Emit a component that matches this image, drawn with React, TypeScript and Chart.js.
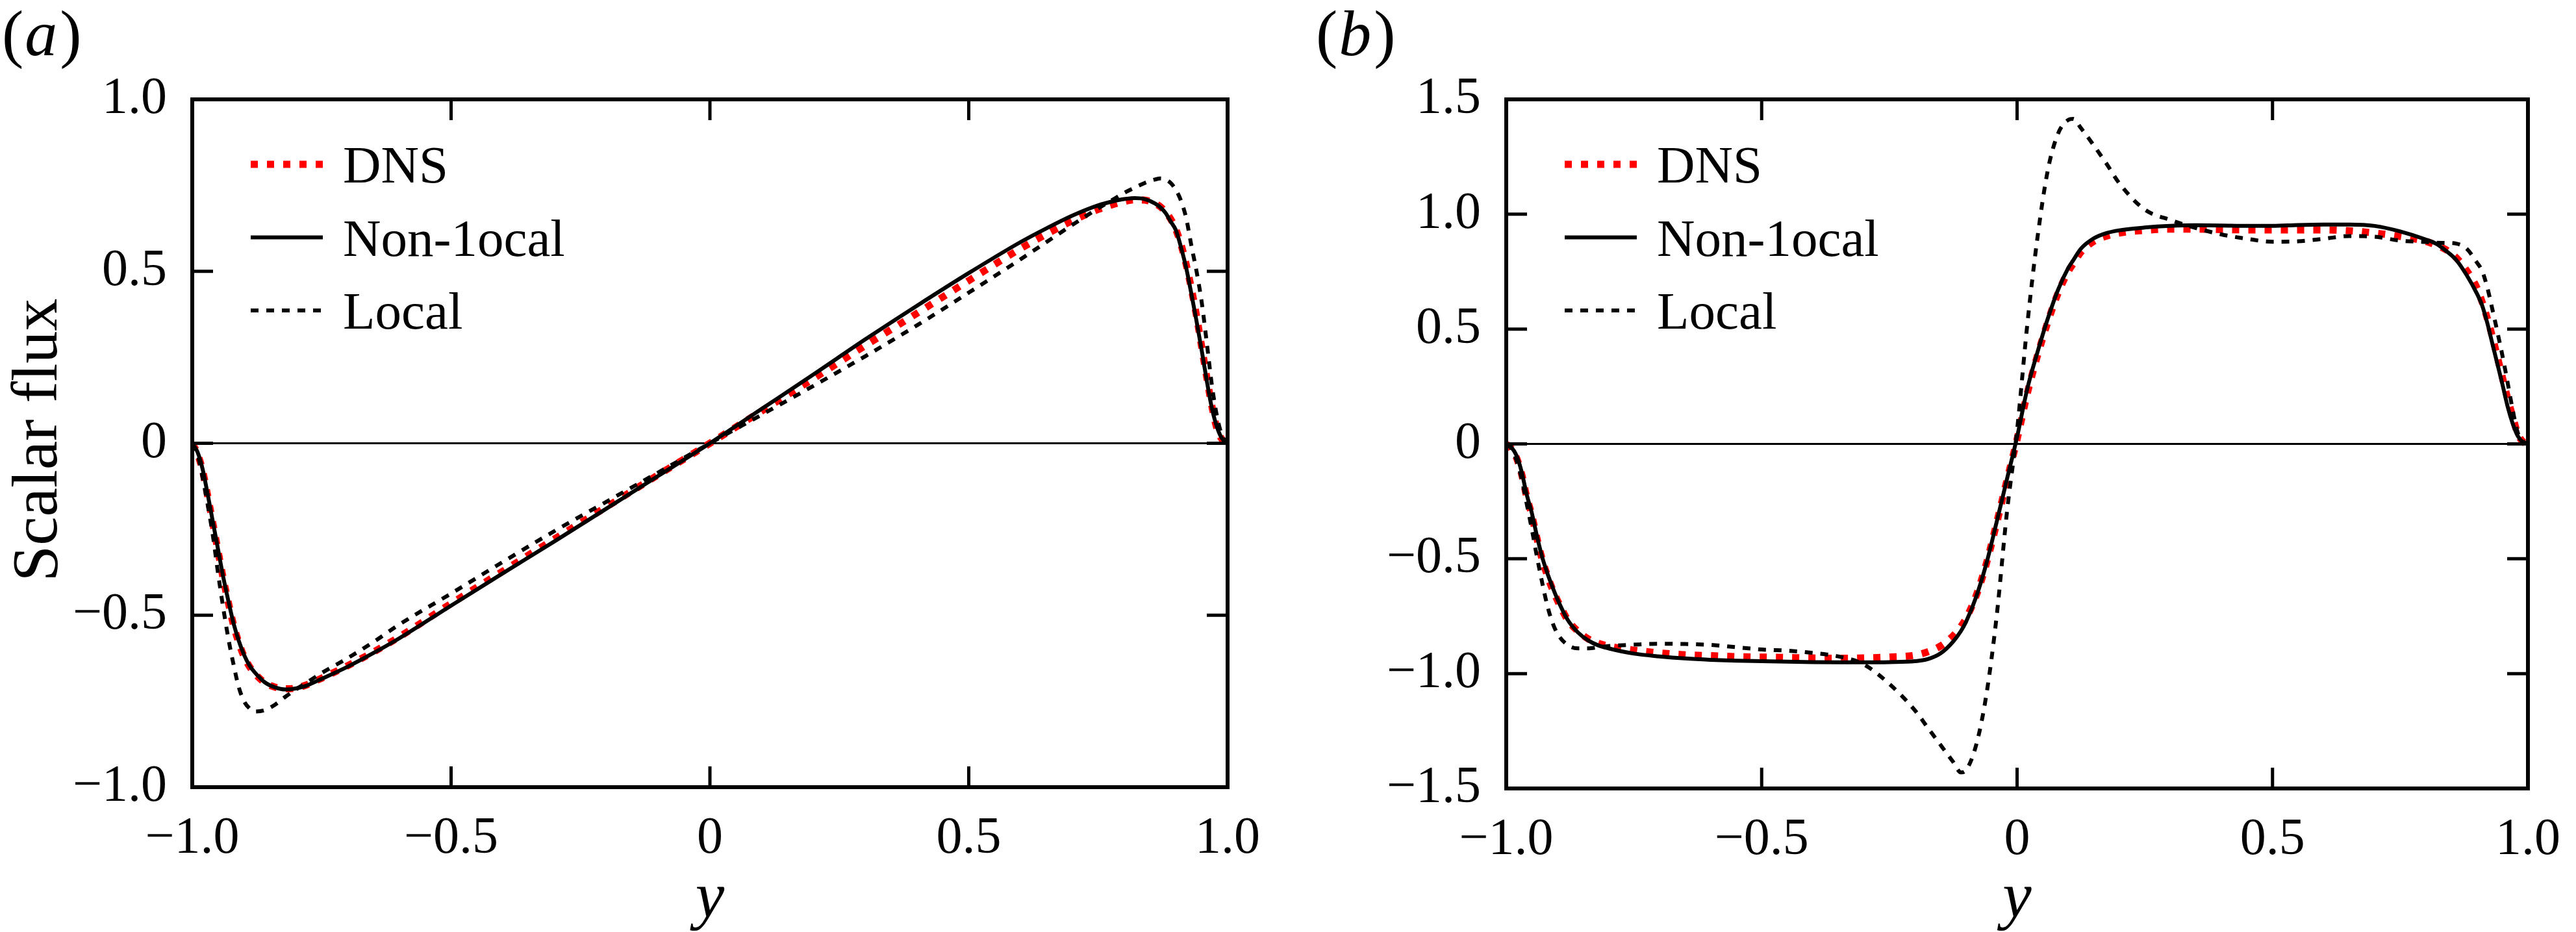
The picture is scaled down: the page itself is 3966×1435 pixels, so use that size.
import { useEffect, useRef } from 'react';
import { Chart, registerables } from 'chart.js';

Chart.register(...registerables);

const FONT = "'Liberation Serif', 'Times New Roman', serif";

// ---------- Panel (a) data ----------
const yPosA = [
  -1, -0.99, -0.98, -0.97, -0.96, -0.95, -0.94, -0.93, -0.92, -0.91,
  -0.9, -0.89, -0.88, -0.86, -0.84, -0.82, -0.8, -0.78, -0.75, -0.7,
  -0.65, -0.6, -0.5, -0.4, -0.3, -0.2, -0.1, 0, 0.1, 0.2,
  0.3, 0.4, 0.5, 0.6, 0.65, 0.7, 0.75, 0.78, 0.8, 0.82,
  0.84, 0.86, 0.87, 0.88, 0.89, 0.9, 0.91, 0.92, 0.93, 0.94,
  0.95, 0.96, 0.97, 0.98, 0.99, 1,
];
const dnsA = [
  0, -0.03, -0.08, -0.155, -0.235, -0.315, -0.395, -0.465, -0.53, -0.58,
  -0.62, -0.648, -0.668, -0.696, -0.709, -0.714, -0.712, -0.703, -0.683, -0.647,
  -0.607, -0.563, -0.466, -0.372, -0.278, -0.185, -0.092, 0, 0.094, 0.188,
  0.284, 0.378, 0.473, 0.566, 0.608, 0.647, 0.68, 0.695, 0.703, 0.708,
  0.707, 0.697, 0.688, 0.673, 0.652, 0.622, 0.578, 0.52, 0.45, 0.37,
  0.28, 0.19, 0.105, 0.04, 0.01, 0,
];
const nonlocalA = [
  0, -0.025, -0.075, -0.15, -0.23, -0.31, -0.39, -0.46, -0.525, -0.575,
  -0.615, -0.645, -0.665, -0.695, -0.71, -0.716, -0.713, -0.705, -0.685, -0.65,
  -0.61, -0.567, -0.472, -0.378, -0.285, -0.19, -0.095, 0, 0.1, 0.2,
  0.302, 0.4, 0.495, 0.585, 0.625, 0.662, 0.692, 0.704, 0.71, 0.713,
  0.71, 0.697, 0.686, 0.67, 0.645, 0.62, 0.57, 0.51, 0.435, 0.355,
  0.27, 0.18, 0.1, 0.045, 0.012, 0,
];
const localA = [
  0, -0.03, -0.1, -0.18, -0.27, -0.38, -0.48, -0.57, -0.645, -0.71,
  -0.75, -0.77, -0.78, -0.776, -0.76, -0.737, -0.716, -0.697, -0.668, -0.625,
  -0.578, -0.527, -0.437, -0.345, -0.255, -0.17, -0.085, 0, 0.083, 0.167,
  0.253, 0.343, 0.438, 0.535, 0.585, 0.635, 0.683, 0.71, 0.728, 0.743,
  0.757, 0.767, 0.77, 0.767, 0.757, 0.737, 0.705, 0.655, 0.575, 0.5,
  0.41, 0.29, 0.165, 0.075, 0.02, 0,
];

// ---------- Panel (b) data ----------
const yPosB = [
  -1, -0.99, -0.98, -0.97, -0.96, -0.95, -0.94, -0.93, -0.92, -0.91,
  -0.9, -0.88, -0.86, -0.84, -0.82, -0.8, -0.75, -0.7, -0.65, -0.6,
  -0.55, -0.5, -0.45, -0.4, -0.35, -0.3, -0.25, -0.2, -0.175, -0.15,
  -0.125, -0.11, -0.1, -0.08, -0.06, -0.04, -0.02, 0, 0.02, 0.04,
  0.06, 0.08, 0.1, 0.11, 0.125, 0.15, 0.175, 0.2, 0.25, 0.3,
  0.35, 0.4, 0.45, 0.5, 0.55, 0.6, 0.65, 0.7, 0.75, 0.8,
  0.82, 0.84, 0.86, 0.88, 0.9, 0.91, 0.92, 0.93, 0.94, 0.95,
  0.96, 0.97, 0.98, 0.99, 1,
];
const dnsB = [
  0, -0.02, -0.06, -0.13, -0.23, -0.31, -0.41, -0.5, -0.57, -0.63,
  -0.68, -0.765, -0.815, -0.848, -0.868, -0.88, -0.898, -0.91, -0.918, -0.922,
  -0.926, -0.928, -0.93, -0.932, -0.933, -0.932, -0.928, -0.92, -0.905, -0.88,
  -0.835, -0.795, -0.76, -0.66, -0.52, -0.345, -0.16, 0.02, 0.22, 0.385,
  0.53, 0.655, 0.75, 0.785, 0.835, 0.882, 0.905, 0.918, 0.93, 0.935,
  0.935, 0.933, 0.932, 0.932, 0.932, 0.932, 0.928, 0.918, 0.903, 0.882,
  0.866, 0.845, 0.81, 0.755, 0.68, 0.62, 0.55, 0.47, 0.38, 0.29,
  0.2, 0.12, 0.045, 0.01, 0,
];
const nonlocalB = [
  0, -0.015, -0.05, -0.12, -0.22, -0.3, -0.4, -0.49, -0.56, -0.62,
  -0.675, -0.765, -0.82, -0.855, -0.877, -0.89, -0.913, -0.925, -0.934, -0.94,
  -0.944, -0.946, -0.948, -0.95, -0.951, -0.951, -0.95, -0.946, -0.937, -0.912,
  -0.86, -0.815, -0.775, -0.665, -0.52, -0.34, -0.155, 0.03, 0.24, 0.4,
  0.545, 0.67, 0.765, 0.8, 0.85, 0.895, 0.918, 0.93, 0.942, 0.949,
  0.952, 0.951, 0.949, 0.949, 0.953, 0.955, 0.955, 0.949, 0.925, 0.89,
  0.872, 0.84, 0.8, 0.735, 0.655, 0.605, 0.53, 0.44, 0.35, 0.26,
  0.165, 0.09, 0.035, 0.008, 0,
];
const localB = [
  0, -0.02, -0.07, -0.15, -0.26, -0.37, -0.49, -0.6, -0.7, -0.775,
  -0.825, -0.875, -0.89, -0.89, -0.885, -0.88, -0.874, -0.87, -0.871, -0.875,
  -0.885, -0.895, -0.9, -0.91, -0.925, -0.96, -1.045, -1.16, -1.235, -1.31,
  -1.385, -1.43, -1.42, -1.31, -1.09, -0.75, -0.3, 0.06, 0.52, 0.9,
  1.19, 1.35, 1.41, 1.415, 1.375, 1.3, 1.22, 1.135, 1.02, 0.975,
  0.94, 0.912, 0.893, 0.88, 0.882, 0.893, 0.905, 0.902, 0.885, 0.879,
  0.876, 0.875, 0.872, 0.85, 0.79, 0.755, 0.685, 0.59, 0.49, 0.385,
  0.27, 0.15, 0.05, 0.012, 0,
];

// ---------- Ticks & labels ----------
const xTicks = [-1, -0.5, 0, 0.5, 1];
const xTickLabels = ['\u22121.0', '\u22120.5', '0', '0.5', '1.0'];
const yTicksA = [-1, -0.5, 0, 0.5, 1];
const yTickLabelsA = ['\u22121.0', '\u22120.5', '0', '0.5', '1.0'];
const yTicksB = [-1.5, -1, -0.5, 0, 0.5, 1, 1.5];
const yTickLabelsB = ['\u22121.5', '\u22121.0', '\u22120.5', '0', '0.5', '1.0', '1.5'];
const seriesNames = ['DNS', 'Non-1ocal', 'Local'];
const xTitle = 'y';
const yTitle = 'Scalar flux';

type Area = { left: number; right: number; top: number; bottom: number };
type PanelCfg = {
  W: number;
  H: number;
  area: Area;
  xs: number[];
  dns: number[];
  nonlocal: number[];
  local: number[];
  yMin: number;
  yMax: number;
  yTicks: number[];
  yLabels: string[];
  letter: string;
  letterX: number;
  showYTitle: boolean;
};

function decorPlugin(cfg: PanelCfg) {
  return {
    id: 'decor',
    beforeDatasetsDraw(chart: any) {
      const { ctx, chartArea: a, scales } = chart;
      const y0 = scales.y.getPixelForValue(0);
      ctx.save();
      ctx.strokeStyle = '#000';
      ctx.lineWidth = 3;
      ctx.beginPath();
      ctx.moveTo(a.left, y0);
      ctx.lineTo(a.right, y0);
      ctx.stroke();
      ctx.restore();
    },
    afterDatasetsDraw(chart: any) {
      const { ctx, chartArea: a, scales } = chart;
      ctx.save();
      ctx.strokeStyle = '#000';
      ctx.setLineDash([]);
      ctx.lineCap = 'butt';
      // ticks (inward, all four sides)
      ctx.lineWidth = 5;
      const TL = 32;
      ctx.beginPath();
      xTicks.forEach((v) => {
        const px = scales.x.getPixelForValue(v);
        ctx.moveTo(px, a.bottom);
        ctx.lineTo(px, a.bottom - TL);
        ctx.moveTo(px, a.top);
        ctx.lineTo(px, a.top + TL);
      });
      cfg.yTicks.forEach((v) => {
        const py = scales.y.getPixelForValue(v);
        ctx.moveTo(a.left, py);
        ctx.lineTo(a.left + TL, py);
        ctx.moveTo(a.right, py);
        ctx.lineTo(a.right - TL, py);
      });
      ctx.stroke();
      // frame
      ctx.lineWidth = 6;
      ctx.lineJoin = 'miter';
      ctx.strokeRect(a.left, a.top, a.right - a.left, a.bottom - a.top);

      // legend
      chart.data.datasets.forEach((ds: any, i: number) => {
        const ry = a.top + 100 + i * 112.5;
        ctx.strokeStyle = ds.borderColor;
        ctx.lineWidth = ds.borderWidth;
        ctx.setLineDash(ds.borderDash || []);
        ctx.beginPath();
        ctx.moveTo(a.left + 90, ry);
        ctx.lineTo(a.left + 201, ry);
        ctx.stroke();
        ctx.setLineDash([]);
        ctx.fillStyle = '#000';
        ctx.font = `81px ${FONT}`;
        ctx.textAlign = 'left';
        ctx.textBaseline = 'alphabetic';
        ctx.fillText(ds.label, a.left + 232, ry + 28);
      });

      // x axis title
      ctx.fillStyle = '#000';
      ctx.font = `italic 100px ${FONT}`;
      ctx.textAlign = 'center';
      ctx.textBaseline = 'alphabetic';
      ctx.fillText(xTitle, (a.left + a.right) / 2, 1412);

      // y axis title
      if (cfg.showYTitle) {
        ctx.save();
        ctx.translate(87, (a.top + a.bottom) / 2 - 5);
        ctx.rotate(-Math.PI / 2);
        ctx.font = `100px ${FONT}`;
        ctx.textAlign = 'center';
        ctx.textBaseline = 'alphabetic';
        ctx.fillText(yTitle, 0, 0);
        ctx.restore();
      }

      // panel label (a)/(b)
      ctx.textAlign = 'left';
      ctx.textBaseline = 'alphabetic';
      let x = cfg.letterX;
      const by = 85;
      ctx.font = `100px ${FONT}`;
      ctx.fillText('(', x, by);
      x += ctx.measureText('(').width + 2;
      ctx.font = `italic 100px ${FONT}`;
      ctx.fillText(cfg.letter, x, by);
      x += ctx.measureText(cfg.letter).width + 4;
      ctx.font = `100px ${FONT}`;
      ctx.fillText(')', x, by);
      ctx.restore();
    },
  };
}

function makePanel(canvas: HTMLCanvasElement, cfg: PanelCfg) {
  const pts = (vals: number[]) => cfg.xs.map((x, i) => ({ x, y: vals[i] }));
  const tickFont = { family: FONT, size: 80 };
  return new Chart(canvas, {
    type: 'line',
    data: {
      datasets: [
        {
          label: seriesNames[0],
          data: pts(cfg.dns),
          borderColor: 'rgb(255,0,0)',
          borderWidth: 11,
          borderDash: [11, 14],
          borderCapStyle: 'butt',
          pointRadius: 0,
          fill: false,
          cubicInterpolationMode: 'monotone',
          order: 3,
        },
        {
          label: seriesNames[1],
          data: pts(cfg.nonlocal),
          borderColor: '#000',
          borderWidth: 6,
          borderDash: [],
          borderCapStyle: 'round',
          borderJoinStyle: 'round',
          pointRadius: 0,
          fill: false,
          cubicInterpolationMode: 'monotone',
          order: 2,
        },
        {
          label: seriesNames[2],
          data: pts(cfg.local),
          borderColor: '#000',
          borderWidth: 6,
          borderDash: [12, 12],
          borderCapStyle: 'butt',
          pointRadius: 0,
          fill: false,
          cubicInterpolationMode: 'monotone',
          order: 1,
        },
      ] as any,
    },
    options: {
      responsive: false,
      animation: false,
      devicePixelRatio: 1,
      events: [],
      layout: {
        padding: {
          left: 0,
          top: cfg.area.top,
          right: cfg.W - cfg.area.right,
          bottom: 0,
        },
      },
      plugins: {
        legend: { display: false },
        tooltip: { enabled: false },
        title: { display: false },
      },
      scales: {
        x: {
          type: 'linear',
          position: 'bottom',
          min: -1,
          max: 1,
          grid: { display: false },
          border: { display: false },
          afterBuildTicks: (s: any) => {
            s.ticks = xTicks.map((v) => ({ value: v }));
          },
          afterFit: (s: any) => {
            s.height = cfg.H - cfg.area.bottom;
          },
          ticks: {
            autoSkip: false,
            maxRotation: 0,
            minRotation: 0,
            padding: 24,
            color: '#000',
            font: tickFont,
            callback: (_v: any, i: number) => xTickLabels[i],
          },
        },
        y: {
          type: 'linear',
          position: 'left',
          min: cfg.yMin,
          max: cfg.yMax,
          grid: { display: false },
          border: { display: false },
          afterBuildTicks: (s: any) => {
            s.ticks = cfg.yTicks.map((v) => ({ value: v }));
          },
          afterFit: (s: any) => {
            s.width = cfg.area.left;
          },
          ticks: {
            autoSkip: false,
            padding: 31,
            color: '#000',
            font: tickFont,
            callback: (_v: any, i: number) => cfg.yLabels[i],
          },
        },
      },
    } as any,
    plugins: [decorPlugin(cfg) as any],
  });
}

export default function App() {
  const refA = useRef<HTMLCanvasElement>(null);
  const refB = useRef<HTMLCanvasElement>(null);

  useEffect(() => {
    document.body.style.margin = '0';
    document.body.style.overflow = 'hidden';
    const a = makePanel(refA.current!, {
      W: 1983,
      H: 1435,
      area: { left: 296, right: 1890, top: 153, bottom: 1212 },
      xs: yPosA,
      dns: dnsA,
      nonlocal: nonlocalA,
      local: localA,
      yMin: -1,
      yMax: 1,
      yTicks: yTicksA,
      yLabels: yTickLabelsA,
      letter: 'a',
      letterX: 3,
      showYTitle: true,
    });
    const b = makePanel(refB.current!, {
      W: 1983,
      H: 1435,
      area: { left: 336, right: 1932, top: 153, bottom: 1214 },
      xs: yPosB,
      dns: dnsB,
      nonlocal: nonlocalB,
      local: localB,
      yMin: -1.5,
      yMax: 1.5,
      yTicks: yTicksB,
      yLabels: yTickLabelsB,
      letter: 'b',
      letterX: 43,
      showYTitle: false,
    });
    return () => {
      a.destroy();
      b.destroy();
    };
  }, []);

  return (
    <div
      style={{
        position: 'absolute',
        left: 0,
        top: 0,
        width: 3966,
        height: 1435,
        background: '#fff',
        overflow: 'hidden',
      }}
    >
      <canvas
        ref={refA}
        width={1983}
        height={1435}
        style={{ position: 'absolute', left: 0, top: 0, width: 1983, height: 1435 }}
      />
      <canvas
        ref={refB}
        width={1983}
        height={1435}
        style={{ position: 'absolute', left: 1983, top: 0, width: 1983, height: 1435 }}
      />
    </div>
  );
}
